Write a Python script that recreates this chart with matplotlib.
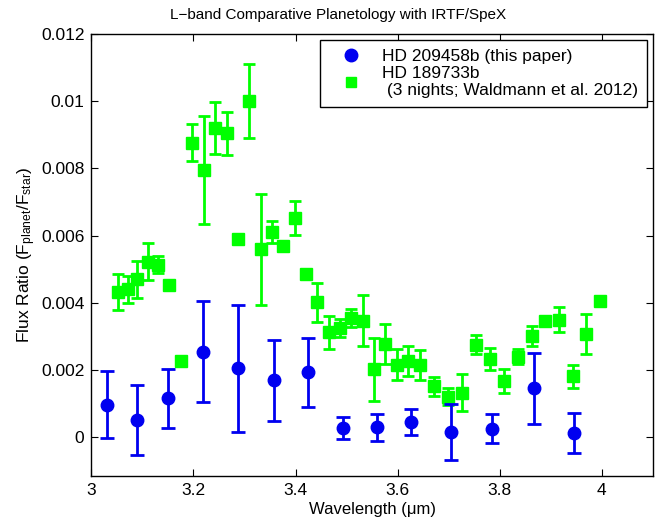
import matplotlib
matplotlib.use('Agg')
import matplotlib.pyplot as plt
from matplotlib.lines import Line2D

plt.rcParams['font.family'] = ['Liberation Sans', 'DejaVu Sans']
plt.rcParams['mathtext.fontset'] = 'custom'
plt.rcParams['mathtext.rm'] = 'Liberation Sans'
plt.rcParams['mathtext.it'] = 'Liberation Sans:italic'

# HD 209458b (this paper)
wl_hd209 = [3.03, 3.089, 3.15, 3.218, 3.287, 3.357, 3.425, 3.492, 3.559,
            3.627, 3.704, 3.785, 3.866, 3.945]
fr_hd209 = [0.00097, 0.00052, 0.00116, 0.00255, 0.00205, 0.0017, 0.00193,
            0.00028, 0.0003, 0.00045, 0.00017, 0.00025, 0.00146, 0.00013]
err_hd209 = [0.001, 0.00105, 0.00087, 0.0015, 0.0019, 0.0012, 0.00103,
             0.00033, 0.0004, 0.00038, 0.00083, 0.00043, 0.00105, 0.0006]

# HD 189733b (Waldmann et al. 2012)
wl_hd189 = [3.053, 3.071, 3.09, 3.11, 3.13, 3.152, 3.175, 3.197, 3.22, 3.242,
            3.265, 3.287, 3.309, 3.332, 3.354, 3.376, 3.398, 3.42, 3.442,
            3.4645, 3.487, 3.509, 3.532, 3.554, 3.576, 3.598, 3.62, 3.643,
            3.671, 3.699, 3.7265, 3.754, 3.781, 3.8086, 3.835, 3.863, 3.889,
            3.916, 3.943, 3.969, 3.996]
fr_hd189 = [0.00433, 0.0044, 0.00471, 0.00522, 0.00514, 0.00452, 0.00226,
            0.00876, 0.00795, 0.00921, 0.00904, 0.0059, 0.01002, 0.0056,
            0.0061, 0.0057, 0.00653, 0.00485, 0.00402, 0.00312, 0.00325,
            0.00355, 0.00347, 0.00203, 0.00277, 0.00216, 0.00227, 0.00215,
            0.00152, 0.00121, 0.00132, 0.00276, 0.00234, 0.00168, 0.0024,
            0.00301, 0.00347, 0.0035, 0.00182, 0.00307, 0.00406]
err_hd189 = [0.00053, 0.0004, 0.00055, 0.00055, 0.00026, 0.0001, 0.0001,
             0.00055, 0.0016, 0.00077, 0.00065, 0.0001, 0.0011, 0.00165,
             0.00033, 0.0001, 0.0005, 0.0001, 0.00058, 0.0005, 0.00026,
             0.00027, 0.00075, 0.00094, 0.00059, 0.00046, 0.00044, 0.00045,
             0.00028, 0.00025, 0.00055, 0.00028, 0.00033, 0.00035, 0.00023,
             0.0003, 0.0001, 0.00037, 0.00034, 0.0006, 0.0001]

xticks = [3, 3.2, 3.4, 3.6, 3.8, 4]
xtick_labels = ['3', '3.2', '3.4', '3.6', '3.8', '4']
yticks = [0, 0.002, 0.004, 0.006, 0.008, 0.01, 0.012]
ytick_labels = ['0', '0.002', '0.004', '0.006', '0.008', '0.01', '0.012']

label_hd209 = 'HD 209458b (this paper)'
label_hd189 = 'HD 189733b\n (3 nights; Waldmann et al. 2012)'

blue = '#0000f0'
green = '#00ff00'

fig = plt.figure(figsize=(6.7, 5.18), dpi=100)
ax = fig.add_axes([0.1364, 0.0811, 0.9746 - 0.1364, 0.9344 - 0.0811])

ax.errorbar(wl_hd209, fr_hd209, yerr=err_hd209, fmt='o', color=blue,
            ecolor=blue, markersize=9, elinewidth=2, capsize=5,
            capthick=2, zorder=3)
ax.errorbar(wl_hd189, fr_hd189, yerr=err_hd189, fmt='s', color=green,
            ecolor=green, markersize=8.5, elinewidth=2, capsize=4.5,
            capthick=2, zorder=2)

ax.set_xlim(3, 4.1)
ax.set_ylim(-0.00115, 0.012)
ax.set_xticks(xticks)
ax.set_xticklabels(xtick_labels)
ax.set_yticks(yticks)
ax.set_yticklabels(ytick_labels)
ax.tick_params(direction='in', top=True, right=True, labelsize=12.5,
               length=5, width=0.8, pad=5)
for s in ax.spines.values():
    s.set_linewidth(1.0)

fig.text(0.505, 0.971, 'L\u2212band Comparative Planetology with IRTF/SpeX',
         fontsize=11, ha='center', va='center')
ax.set_xlabel('Wavelength (\u03bcm)', fontsize=12, labelpad=3)
ax.set_ylabel('Flux Ratio (F$_{\\mathrm{planet}}$/F$_{\\mathrm{star}}$)',
              fontsize=12.5, labelpad=2)

# legend shows markers only, as in the original
handles = [Line2D([], [], ls='none', marker='o', color=blue, markersize=9),
           Line2D([], [], ls='none', marker='s', color=green, markersize=7.5)]
leg = ax.legend(handles, [label_hd209, label_hd189], loc='upper right',
                fontsize=12.5, frameon=True, fancybox=False, framealpha=1,
                edgecolor='black', borderaxespad=0.35, handletextpad=0.5,
                borderpad=0.5, labelspacing=0.1, handlelength=2.6)
leg.get_frame().set_linewidth(1.0)

fig.savefig('out.png', dpi=100)
